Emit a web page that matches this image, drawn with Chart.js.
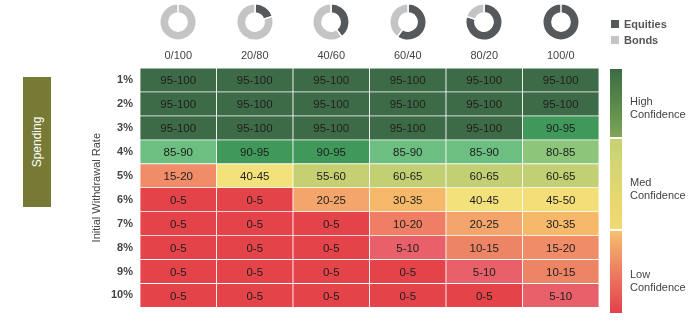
<!DOCTYPE html>
<html>
<head>
<meta charset="utf-8">
<script src="https://cdn.jsdelivr.net/npm/chart.js@4.4.0/dist/chart.umd.min.js"></script>
<style>
  body { margin: 0; background: #fff; font-family: "Liberation Sans", Arial, sans-serif; }
  #wrap { position: relative; width: 700px; height: 321px; overflow: hidden; }
  #heat { position: absolute; left: 0; top: 0; }
  .donut { position: absolute; top: 2px; width: 40px; height: 40px; }
  .spend { position: absolute; left: 23px; top: 77px; width: 28px; height: 130px; background: #777a35; }
  .spend span { position: absolute; left: 50%; top: 50%; transform: translate(-50%, -50%) rotate(-90deg);
    color: #fff; font-size: 12px; white-space: nowrap; }
  .leg { position: absolute; left: 611px; font-size: 11px; font-weight: bold; color: #555; line-height: 12px; }
  .leg i { display: inline-block; width: 8px; height: 8px; margin-right: 5px; vertical-align: 0; }
  .bar { position: absolute; left: 610px; width: 12px; }
  .conf { position: absolute; left: 630px; font-size: 11px; color: #444; line-height: 13px; }
</style>
</head>
<body>
<div id="wrap">
  <canvas id="heat" width="700" height="321"></canvas>
  <div class="spend"><span>Spending</span></div>
  <div class="leg" style="top:18px"><i style="background:#55595c"></i>Equities</div>
  <div class="leg" style="top:34px"><i style="background:#c4c4c4"></i>Bonds</div>
  <div class="bar" style="top:69px;height:68px;background:linear-gradient(#3d6a46,#5f8f4c 60%,#7fa558)"></div>
  <div class="bar" style="top:139px;height:90px;background:linear-gradient(#c5d272,#e3d872 60%,#f3d873)"></div>
  <div class="bar" style="top:231px;height:82px;background:linear-gradient(#f6c06d,#ee8363 45%,#e4404a)"></div>
  <div class="conf" style="top:95px">High<br>Confidence</div>
  <div class="conf" style="top:176px">Med<br>Confidence</div>
  <div class="conf" style="top:268px">Low<br>Confidence</div>
</div>
<script>
'use strict';

const allocations = ['0/100', '20/80', '40/60', '60/40', '80/20', '100/0'];
const equities = [0, 20, 40, 60, 80, 100];
const bonds = [100, 80, 60, 40, 20, 0];
const rates = ['1%', '2%', '3%', '4%', '5%', '6%', '7%', '8%', '9%', '10%'];

// success probability range per withdrawal rate, one entry per allocation
const rate1 = ['95-100', '95-100', '95-100', '95-100', '95-100', '95-100'];
const rate2 = ['95-100', '95-100', '95-100', '95-100', '95-100', '95-100'];
const rate3 = ['95-100', '95-100', '95-100', '95-100', '95-100', '90-95'];
const rate4 = ['85-90', '90-95', '90-95', '85-90', '85-90', '80-85'];
const rate5 = ['15-20', '40-45', '55-60', '60-65', '60-65', '60-65'];
const rate6 = ['0-5', '0-5', '20-25', '30-35', '40-45', '45-50'];
const rate7 = ['0-5', '0-5', '0-5', '10-20', '20-25', '30-35'];
const rate8 = ['0-5', '0-5', '0-5', '5-10', '10-15', '15-20'];
const rate9 = ['0-5', '0-5', '0-5', '0-5', '5-10', '10-15'];
const rate10 = ['0-5', '0-5', '0-5', '0-5', '0-5', '5-10'];
const grid = [rate1, rate2, rate3, rate4, rate5, rate6, rate7, rate8, rate9, rate10];

const rangeColors = {
    '95-100': '#3e6b47',
    '90-95': '#40985a',
    '85-90': '#6cbf80',
    '80-85': '#8dc67a',
    '60-65': '#c3cf73',
    '55-60': '#c6d073',
    '45-50': '#f3de78',
    '40-45': '#f3e27c',
    '30-35': '#f6b96a',
    '20-25': '#f3a56c',
    '15-20': '#f08c68',
    '10-20': '#ef7e64',
    '10-15': '#ee8466',
    '5-10': '#e8606a',
    '0-5': '#e5434a'
};

const font = '"Liberation Sans", Arial, sans-serif';

// writes the range text in the middle of every cell
const cellText = {
    id: 'cellText',
    afterDatasetsDraw(chart) {
        const ctx = chart.ctx;
        ctx.save();
        ctx.font = '11.5px ' + font;
        ctx.fillStyle = '#1e1e1e';
        ctx.textAlign = 'center';
        ctx.textBaseline = 'middle';
        chart.data.datasets.forEach((ds, i) => {
            chart.getDatasetMeta(i).data.forEach((el, j) => {
                ctx.fillText(grid[i][j], el.x, (el.y + el.base) / 2 + 1);
            });
        });
        ctx.restore();
    }
};

const datasets = grid.map((row, i) => ({
    label: rates[i],
    data: row.map(() => [i, i + 1]),
    backgroundColor: row.map(r => rangeColors[r]),
    borderColor: 'rgba(255,255,255,0.75)',
    borderWidth: 0.75,
    borderSkipped: false,
    barPercentage: 1,
    categoryPercentage: 1,
    grouped: false
}));

const heat = new Chart(document.getElementById('heat'), {
    type: 'bar',
    data: { labels: allocations, datasets: datasets },
    plugins: [cellText],
    options: {
        responsive: false,
        animation: false,
        layout: { padding: { left: 88, right: 101, top: 0, bottom: 8 } },
        plugins: { legend: { display: false }, tooltip: { enabled: false } },
        scales: {
            x: {
                position: 'top',
                grid: { display: false, drawTicks: false },
                border: { display: false },
                ticks: { color: '#444', padding: 5, font: { size: 11, family: font } },
                afterFit: s => { s.height = 68; }
            },
            y: {
                min: 0,
                max: 10,
                reverse: true,
                grid: { display: false, drawTicks: false },
                border: { display: false },
                afterBuildTicks: s => { s.ticks = rates.map((r, i) => ({ value: i + 0.5 })); },
                ticks: {
                    color: '#444',
                    padding: 7,
                    font: { size: 11, weight: 'bold', family: font },
                    callback: (v, i) => rates[i]
                },
                title: {
                    display: true,
                    text: 'Initial Withdrawal Rate',
                    color: '#444',
                    padding: 2,
                    font: { size: 11, family: font }
                },
                afterFit: s => { s.width = 52; }
            }
        }
    }
});

// one doughnut above each allocation column
const wrap = document.getElementById('wrap');
allocations.forEach((a, j) => {
    const cx = heat.scales.x.getPixelForValue(j);
    const c = document.createElement('canvas');
    c.className = 'donut';
    c.width = 40;
    c.height = 40;
    c.style.left = (cx - 20) + 'px';
    wrap.appendChild(c);
    new Chart(c, {
        type: 'doughnut',
        data: {
            labels: ['Equities', 'Bonds'],
            datasets: [{
                data: [equities[j], bonds[j]],
                backgroundColor: ['#55595c', '#c4c4c4'],
                borderColor: '#fff',
                borderWidth: 1.5
            }]
        },
        options: {
            responsive: false,
            animation: false,
            cutout: '50%',
            layout: { padding: 1 },
            plugins: { legend: { display: false }, tooltip: { enabled: false } }
        }
    });
});
</script>
</body>
</html>
